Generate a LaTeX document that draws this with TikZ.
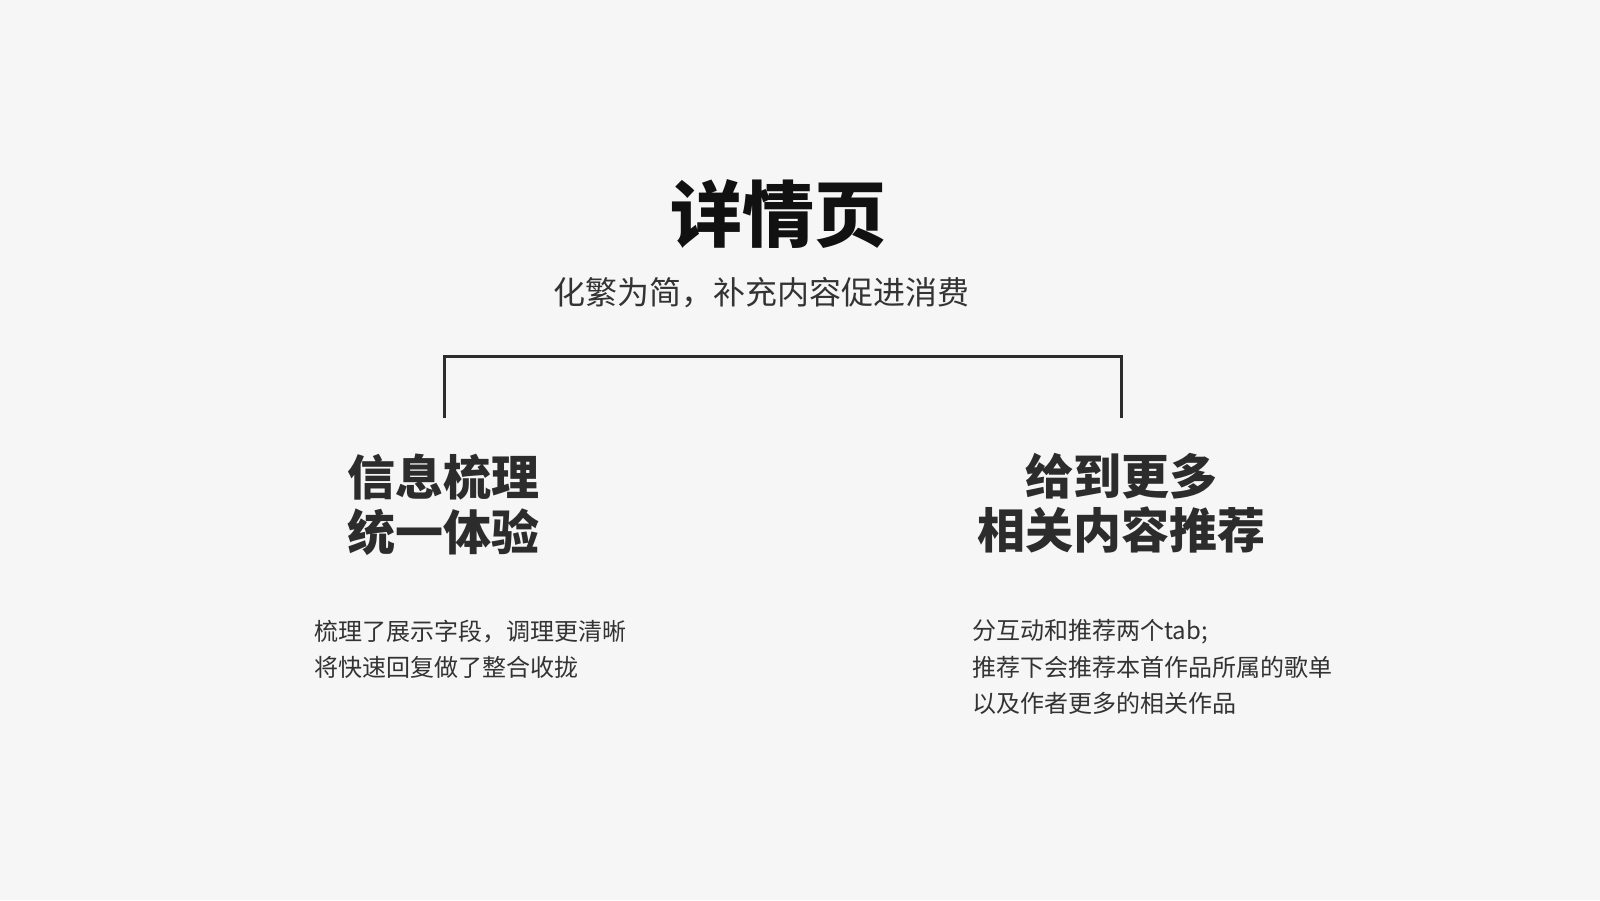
\documentclass[tikz,border=0pt]{standalone}
\usepackage{fontspec}
\newfontfamily\cjk{Noto Sans CJK SC}
\definecolor{bg}{HTML}{F6F6F6}
\definecolor{ink}{HTML}{111111}
\definecolor{dark}{HTML}{2C2C2C}
\definecolor{body}{HTML}{333333}
\tikzset{
  titletext/.style={inner sep=0pt, text=ink, font=\cjk\bfseries\fontsize{72}{80}\selectfont},
  subtext/.style={inner sep=0pt, text=body, font=\cjk\fontsize{32}{40}\selectfont},
  headtext/.style={inner sep=0pt, text=dark, font=\cjk\bfseries\fontsize{48}{56}\selectfont},
  bodytext/.style={inner sep=0pt, anchor=west, text=body, font=\cjk\fontsize{24}{30}\selectfont},
  bracketline/.style={draw=dark, line width=3pt, line join=miter}
}
\begin{document}
\begin{tikzpicture}[x=1pt,y=-1pt]
\fill[bg] (0,0) rectangle (1600,900);
\useasboundingbox (0,0) rectangle (1600,900);

\node[titletext] (title) at (778,214) {详情页};
\node[subtext] (sub) at (761,293) {化繁为简，补充内容促进消费};

\coordinate (bl) at (444,418);
\coordinate (tl) at (444,356);
\coordinate (tr) at (1121,356);
\coordinate (br) at (1121,418);
\draw[bracketline] (bl) -- (tl) -- (tr) -- (br);

\node[headtext] (lh1) at (443,477) {信息梳理};
\node[headtext] (lh2) at (443,532) {统一体验};
\node[headtext] (rh1) at (1121,476) {给到更多};
\node[headtext] (rh2) at (1121,530) {相关内容推荐};

\node[bodytext] (lb1) at (314,632) {梳理了展示字段，调理更清晰};
\node[bodytext] (lb2) at (314,667) {将快速回复做了整合收拢};

\node[bodytext] (rb1) at (972,632) {分互动和推荐两个tab;};
\node[bodytext] (rb2) at (972,667) {推荐下会推荐本首作品所属的歌单};
\node[bodytext] (rb3) at (972,703) {以及作者更多的相关作品};
\end{tikzpicture}
\end{document}
